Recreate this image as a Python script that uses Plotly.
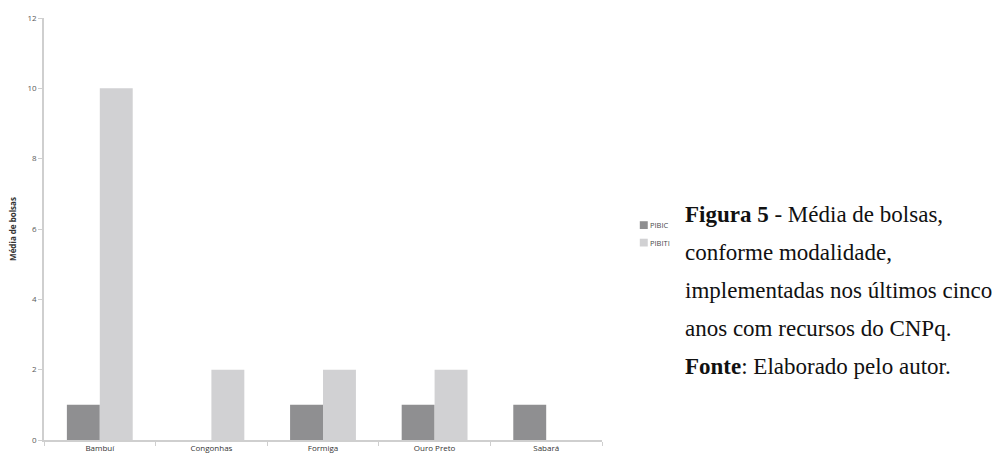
import plotly.graph_objects as go

# Average number of scholarships per campus, by programme
campi = ["Bambuí", "Congonhas", "Formiga", "Ouro Preto", "Sabará"]
pibic = [1, 0, 1, 1, 1]
pibiti = [10, 2, 2, 2, 0]
series_names = ["PIBIC", "PIBITI"]
series_colors = ["#8f8f91", "#d1d1d3"]

caption_lines = [
    "<b>Figura 5</b> - Média de bolsas,",
    "conforme modalidade,",
    "implementadas nos últimos cinco",
    "anos com recursos do CNPq.",
    "<b>Fonte</b>: Elaborado pelo autor.",
]

fig = go.Figure()
for name, vals, col in zip(series_names, [pibic, pibiti], series_colors):
    fig.add_trace(go.Bar(
        x=campi, y=vals, name=name,
        marker=dict(color=col, line=dict(width=0)),
        showlegend=False,
    ))

L, R, T, B = 41, 400, 13, 18
pw = 1002 - L - R
ph = 465 - T - B

fig.update_layout(
    width=1002, height=465,
    margin=dict(l=L, r=R, t=T, b=B),
    paper_bgcolor="white", plot_bgcolor="white",
    barmode="group", bargap=0.41, bargroupgap=0,
    font=dict(family="Open Sans, DejaVu Sans, sans-serif", size=8, color="#595959"),
    xaxis=dict(
        showline=True, linecolor="#cfcfcf", linewidth=1.5,
        ticks="outside", tickson="boundaries", ticklen=4, tickcolor="#cfcfcf",
        tickfont=dict(size=8, color="#333333"),
        showgrid=False, zeroline=False,
    ),
    yaxis=dict(
        range=[0, 12], dtick=2,
        showline=True, linecolor="#cfcfcf", linewidth=1.5,
        ticks="outside", ticklen=4, tickcolor="#cfcfcf",
        tickfont=dict(size=8, color="#595959"),
        showgrid=False, zeroline=False,
        title=dict(text="<b>Média de bolsas</b>", font=dict(size=8, color="#333333"), standoff=10),
    ),
)

# Legend swatches and labels beside the plot
leg_x0 = 640
for i, (name, col) in enumerate(zip(series_names, series_colors)):
    yc = 226 + i * 18
    fig.add_shape(
        type="rect", xref="paper", yref="paper",
        x0=(leg_x0 - L) / pw, x1=(leg_x0 + 8 - L) / pw,
        y0=(465 - B - (yc + 4)) / ph, y1=(465 - B - (yc - 4)) / ph,
        fillcolor=col, line=dict(width=0),
    )
    fig.add_annotation(
        xref="paper", yref="paper",
        x=(leg_x0 + 8 - L) / pw, y=(465 - B - yc) / ph,
        xanchor="left", yanchor="middle", showarrow=False,
        text=name, font=dict(size=7.5, color="#4a4a4a"),
    )

# Caption text, one annotation per line
for i, line in enumerate(caption_lines):
    yc = 215 + i * 39
    fig.add_annotation(
        xref="paper", yref="paper",
        x=(683 - L) / pw, y=(465 - B - yc) / ph,
        xanchor="left", yanchor="middle", showarrow=False,
        text=line,
        font=dict(family="Liberation Serif, Times New Roman, serif", size=23, color="#111111"),
    )

fig.write_html("out.html")
